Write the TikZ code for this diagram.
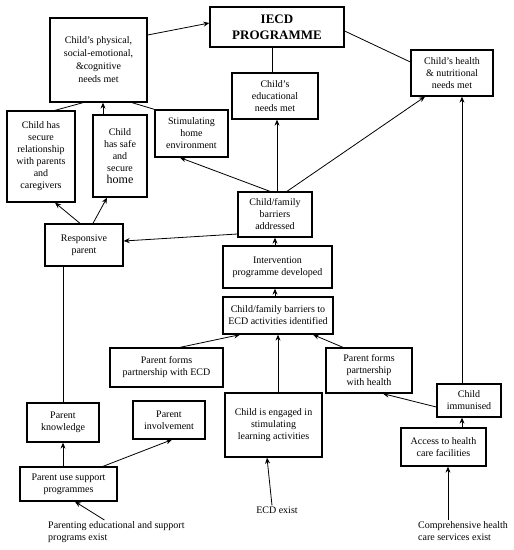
\documentclass[tikz,border=0pt]{standalone}
\usepackage{fontspec}
\setmainfont{Liberation Serif}
\usetikzlibrary{arrows.meta}

\def \boxLine {1.3pt}
\def \arrowLine {0.8pt}

\tikzset{
   box/.style={draw, line width=\boxLine, align=center, inner sep=1pt, font=\fontsize{10}{12}\selectfont},
   link/.style={line width=\arrowLine},
   arrow/.style={link, -{Stealth[length=6pt, width=5pt, inset=2pt]}}
}

\begin{document}
\begin{tikzpicture}[x=1pt, y=-1pt]
   \useasboundingbox (0, 0) rectangle (514, 550);

   \node[box, minimum width=134pt, minimum height=40pt, font=\fontsize{13}{16}\selectfont\bfseries] (iecd) at (277, 27) {IECD\\PROGRAMME};
   \node[box, minimum width=97pt, minimum height=84pt, font=\fontsize{10}{13}\selectfont] (phys) at (98.5, 60) {Child’s physical,\\social-emotional,\\\&cognitive\\needs met};
   \node[box, minimum width=86pt, minimum height=46pt] (edu) at (275, 96) {Child’s\\educational\\needs met};
   \node[box, minimum width=82pt, minimum height=46pt] (hlth) at (452, 73) {Child’s health\\\& nutritional\\needs met};
   \node[box, minimum width=68pt, minimum height=91pt] (secure) at (41, 156.5) {Child has\\secure\\relationship\\with parents\\and\\caregivers};
   \node[box, minimum width=54pt, minimum height=82pt] (safe) at (120, 156) {Child\\has safe\\and\\secure\\{\fontsize{12}{14}\selectfont home}};
   \node[box, minimum width=73pt, minimum height=47pt] (stim) at (191.5, 133.5) {Stimulating\\home\\environment};
   \node[box, minimum width=74pt, minimum height=45pt] (addr) at (275, 214.5) {Child/family\\barriers\\addressed};
   \node[box, minimum width=78pt, minimum height=42pt] (resp) at (84, 245) {Responsive\\parent};
   \node[box, minimum width=109pt, minimum height=42pt] (interv) at (277.5, 267) {Intervention\\programme developed};
   \node[box, minimum width=110pt, minimum height=37pt] (ident) at (278, 315.5) {Child/family barriers to\\ECD activities identified};
   \node[box, minimum width=113pt, minimum height=39pt] (pecd) at (166.5, 367.5) {Parent forms\\partnership with ECD};
   \node[box, minimum width=86pt, minimum height=45pt] (phlth) at (369, 370.5) {Parent forms\\partnership\\with health};
   \node[box, minimum width=64pt, minimum height=33pt] (immun) at (469, 400.5) {Child\\immunised};
   \node[box, minimum width=85pt, minimum height=38pt] (access) at (443.5, 447) {Access to health\\care facilities};
   \node[box, minimum width=97pt, minimum height=64pt] (engaged) at (273.5, 425) {Child is engaged in\\stimulating\\learning activities};
   \node[box, minimum width=72pt, minimum height=38pt] (involve) at (169, 420) {Parent\\involvement};
   \node[box, minimum width=72pt, minimum height=39pt] (know) at (63, 422.5) {Parent\\knowledge};
   \node[box, minimum width=97pt, minimum height=34pt] (support) at (68.5, 484) {Parent use support\\programmes};

   % conditions at the bottom
   \node[align=left, anchor=north west, inner sep=1pt, font=\fontsize{10}{12.5}\selectfont] (parenting) at (47, 520) {Parenting educational and support\\programs exist};
   \node[inner sep=1pt, font=\fontsize{10}{12}\selectfont] (ecdexist) at (277, 510) {ECD exist};
   \node[align=left, anchor=north west, inner sep=1pt, font=\fontsize{10}{12.5}\selectfont] (comp) at (417, 520) {Comprehensive health\\care services exist};

   % top part
   \draw[arrow] ([yshift=25pt]phys.east) -- ([yshift=4pt]iecd.west);
   \draw[link] ([yshift=-4pt]iecd.east) -- ([yshift=11pt]hlth.west);
   \draw[link] ([xshift=-5pt]iecd.south) -- ([xshift=-3pt]edu.north);
   \draw[link] ([xshift=14pt]secure.north) -- ([xshift=-15.5pt]phys.south);
   \draw[arrow] ([xshift=-17pt]safe.north) -- ([xshift=4.5pt]phys.south);
   \draw[link] (stim.north west) -- ([xshift=33.5pt]phys.south);

   % barriers addressed
   \draw[arrow] ([xshift=2pt]addr.north) -- ([xshift=2pt]edu.south);
   \draw[arrow] ([xshift=12pt]addr.north) -- ([xshift=-27pt]hlth.south);
   \draw[arrow] ([xshift=-5pt]addr.north) -- ([xshift=-11.5pt]stim.south);
   \draw[arrow] ([yshift=-19.5pt]addr.west) -- ([yshift=4pt]resp.east);
   \draw[arrow] (interv.north -| addr) -- (addr.south);
   \draw[arrow] (ident.north -| addr) -- (interv.south -| addr);

   % into the identified barriers
   \draw[arrow] ([xshift=13.5pt]pecd.north) -- ([xshift=-38pt]ident.south);
   \draw[arrow] (ident.south |- engaged.north) -- (ident.south);
   \draw[arrow] ([xshift=-26pt]phlth.north) -- ([xshift=35pt]ident.south);

   % health side
   \draw[arrow] ([yshift=-6.5pt]immun.west) -- ([xshift=14pt]phlth.south);
   \draw[arrow] ([xshift=-7pt]immun.north) -- ([xshift=10pt]hlth.south);
   \draw[arrow] ([xshift=18.5pt]access.north) -- ([xshift=-7pt]immun.south);
   \coordinate (accessin) at ([xshift=4.5pt]access.south);
   \draw[arrow] (comp.north -| accessin) -- (accessin);

   % parent side
   \draw[arrow] ([xshift=-4pt]resp.north) -- ([xshift=14pt]secure.south);
   \draw[arrow] ([xshift=9pt]resp.north) -- ([xshift=-13pt]safe.south);
   \draw[link] (resp.south -| know) -- (know.north);
   \draw[arrow] (support.north -| know) -- (know.south);
   \draw[arrow] ([xshift=34.5pt]support.north) -- ([xshift=3pt]involve.south);
   \draw[arrow] ([xshift=-12pt]parenting.north) -- ([xshift=6.5pt]support.south);
   \draw[arrow] ([xshift=-5pt]ecdexist.north) -- ([xshift=-6.5pt]engaged.south);
\end{tikzpicture}
\end{document}
